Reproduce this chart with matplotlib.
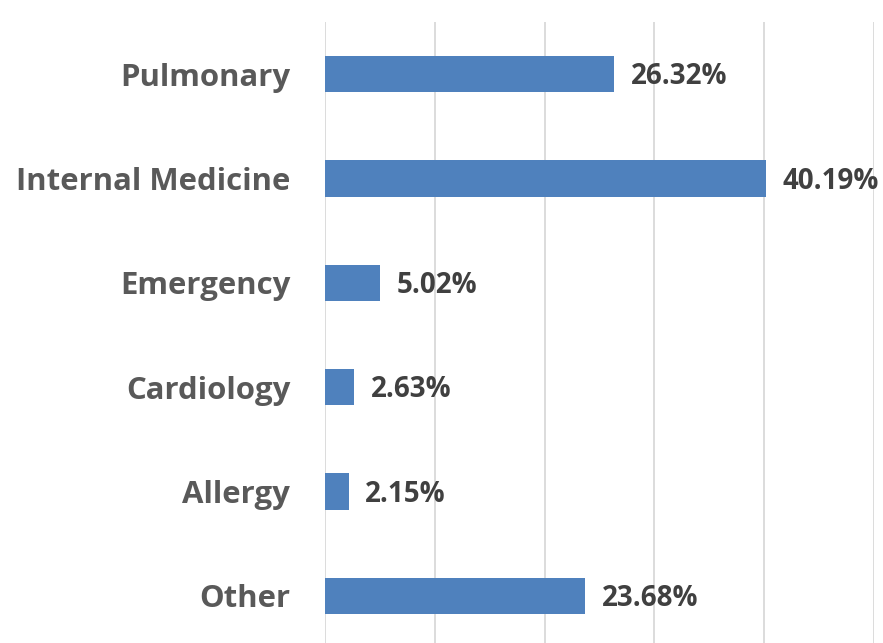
import matplotlib
matplotlib.use("Agg")
import matplotlib.pyplot as plt

categories = ["Pulmonary", "Internal Medicine", "Emergency", "Cardiology", "Allergy", "Other"]
shares = [26.32, 40.19, 5.02, 2.63, 2.15, 23.68]
labels = ["26.32%", "40.19%", "5.02%", "2.63%", "2.15%", "23.68%"]

plt.rcParams['font.family'] = ['Open Sans', 'DejaVu Sans']

fig = plt.figure(figsize=(8.83, 6.43), dpi=100)
W, H = 883, 643
ax = fig.add_axes([325 / W, -5 / H, 549 / W, 626 / H])

pos = list(range(len(categories)))
ax.barh(pos, shares, height=0.35, color="#4f81bd", zorder=3)

for p, v, lab in zip(pos, shares, labels):
    ax.annotate(lab, (v, p), xytext=(12, -2), textcoords="offset points",
                va="center", ha="left", fontsize=20, fontweight="bold",
                color="#404040")

ax.set_xlim(0, 50)
ax.set_ylim(5.5, -0.5)
ax.set_xticks([0, 10, 20, 30, 40, 50])
ax.set_xticklabels([])
ax.set_yticks(pos)
ax.set_yticklabels(categories, fontsize=22.4, fontweight="bold", color="#595959")
ax.tick_params(axis="both", length=0)
ax.tick_params(axis="y", pad=25)
ax.grid(axis="x", color="#d9d9d9", linewidth=1.3, zorder=0)
for s in ax.spines.values():
    s.set_visible(False)

fig.savefig("out.png", dpi=100)
